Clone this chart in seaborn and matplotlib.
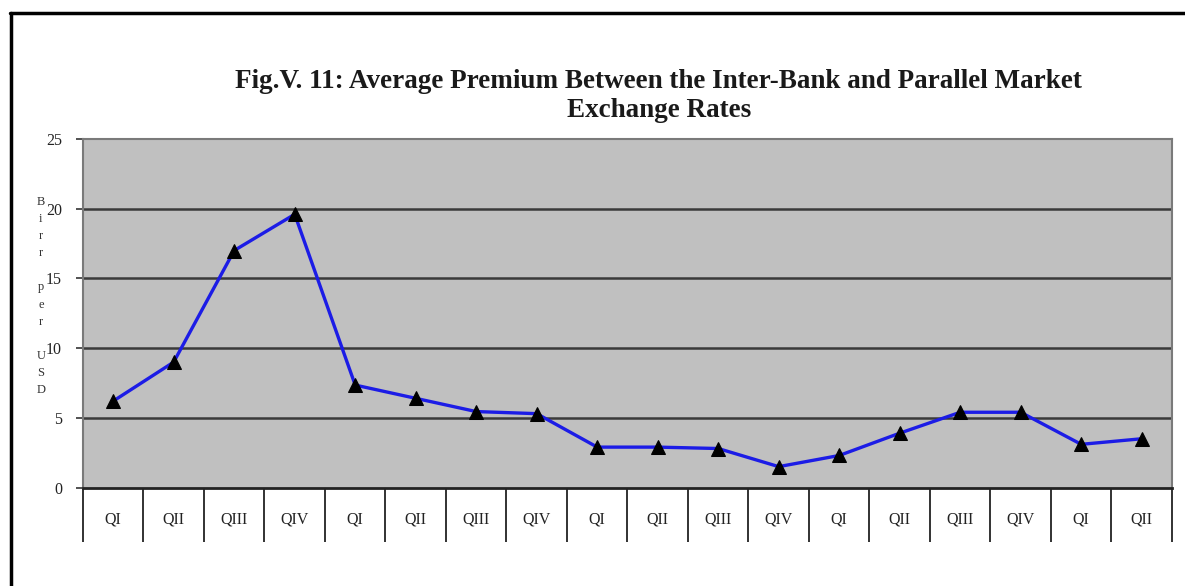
import numpy as np
import pandas as pd
import matplotlib
matplotlib.use("Agg")
import matplotlib.pyplot as plt
from matplotlib.lines import Line2D
import seaborn as sns

# Quarterly average premium (Birr per USD)
quarters = ["QI", "QII", "QIII", "QIV", "QI", "QII", "QIII", "QIV", "QI",
            "QII", "QIII", "QIV", "QI", "QII", "QIII", "QIV", "QI", "QII"]
premium = [6.2, 9.0, 17.0, 19.6, 7.35, 6.4, 5.45, 5.3, 2.9,
           2.9, 2.8, 1.5, 2.3, 3.9, 5.4, 5.4, 3.1, 3.5]
y_ticks = [0, 5, 10, 15, 20, 25]

title = ("Fig.V. 11: Average Premium Between the Inter-Bank and Parallel Market\n"
         "Exchange Rates")

sns.set_theme(style="white")
plt.rcParams["font.family"] = ["Liberation Serif", "DejaVu Serif"]

df = pd.DataFrame({"pos": np.arange(len(quarters)), "premium": premium})

fig = plt.figure(figsize=(11.85, 5.86), dpi=100)
fig.patch.set_facecolor("white")
ax = fig.add_axes([0.0700, 0.168, 0.919, 0.5948])
ax.set_facecolor("#c0c0c0")

# horizontal gridlines
for v in y_ticks[1:-1]:
    ax.axhline(v, color="#3a3a3a", lw=1.8, zorder=1)

sns.lineplot(data=df, x="pos", y="premium", ax=ax, color="#1c1ce6", lw=2.4,
             marker="^", markersize=10, markerfacecolor="black",
             markeredgecolor="black", zorder=3)

ax.set_xlim(-0.5, len(quarters) - 0.5)
ax.set_ylim(0, 25)
ax.set_yticks(y_ticks)
ax.set_yticklabels([str(v) for v in y_ticks], fontsize=11.5, color="#222222")
ax.tick_params(axis="y", length=5, width=1.2, color="#333333", pad=10, left=True)

# category labels centred in cells, separator lines at cell boundaries
ax.set_xticks(np.arange(len(quarters)))
ax.set_xticklabels(quarters, fontsize=11.5, color="#222222")
ax.tick_params(axis="x", which="major", length=0, pad=17)
ax.set_xticks(np.arange(len(quarters) + 1) - 0.5, minor=True)
ax.tick_params(axis="x", which="minor", length=39, width=1.3,
               color="#222222", direction="out", bottom=True)

ax.set_xlabel("")
ax.set_ylabel("")

for side in ["top", "right", "left"]:
    ax.spines[side].set_visible(True)
    ax.spines[side].set_color("#7a7a7a")
    ax.spines[side].set_linewidth(1.5)
ax.spines["bottom"].set_color("#222222")
ax.spines["bottom"].set_linewidth(2)

# stacked axis caption
fig.text(0.0345, 0.666, "B\ni\nr\nr\n\np\ne\nr\n\nU\nS\nD", ha="center",
         va="top", fontsize=9, color="#333333", linespacing=1.57)

fig.text(0.556, 0.882, title, ha="center", va="top", fontsize=19.5,
         fontweight="bold", color="#1a1a1a", linespacing=1.2)

# outer frame
fig.add_artist(Line2D([0.0088, 1.0], [0.9770, 0.9770], color="black", lw=2.5,
                      transform=fig.transFigure))
fig.add_artist(Line2D([0.0093, 0.0093], [0.0, 0.9770], color="black", lw=2.5,
                      transform=fig.transFigure))

fig.savefig("out.png", dpi=100, facecolor="white")
